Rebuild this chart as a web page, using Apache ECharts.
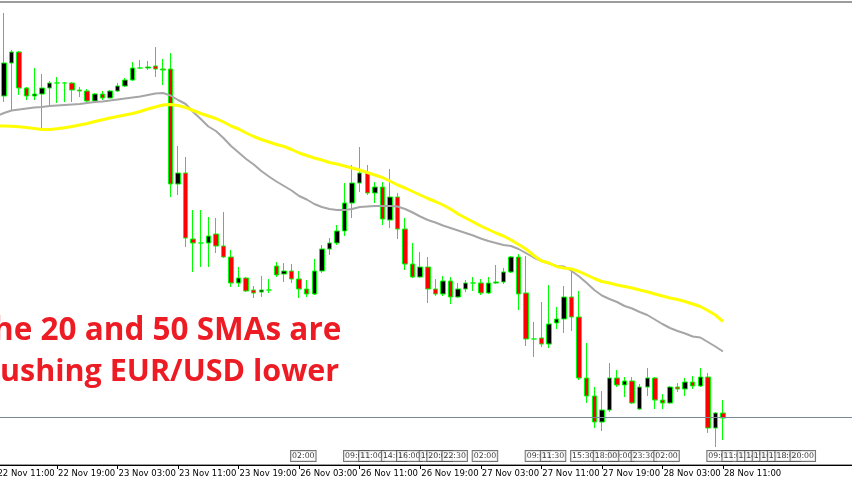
<!DOCTYPE html>
<html><head><meta charset="utf-8">
<script src="https://cdn.jsdelivr.net/npm/echarts@6/dist/echarts.min.js"></script>
<style>html,body{margin:0;padding:0;background:#fff}#c{width:852px;height:485px}</style>
</head><body><div id="c"></div>
<script>
// hourly bars (H1), weekend skipped
const dayHours = [['22 Nov',11,23],['23 Nov',0,23],['26 Nov',0,23],['27 Nov',0,23],['28 Nov',0,23],['29 Nov',0,5]];
const categories = [];
dayHours.forEach(function(d){ for(let h=d[1];h<=d[2];h++){ categories.push(d[0]+' '+(h<10?'0':'')+h+':00'); } });

const tickLabels = ['22 Nov 11:00','22 Nov 19:00','23 Nov 03:00','23 Nov 11:00','23 Nov 19:00','26 Nov 03:00','26 Nov 11:00','26 Nov 19:00','27 Nov 03:00','27 Nov 11:00','27 Nov 19:00','28 Nov 03:00','28 Nov 11:00'];

const openP = [null,
1.14016,1.14148,1.14192,1.14048,1.14016,1.14024,1.14048,1.14068,1.14068,1.14068,
1.14040,1.14036,1.13996,1.14024,1.14008,1.14036,1.14056,1.14080,1.14128,1.14128,
1.14136,1.14124,1.14124,1.13664,1.13708,1.13444,1.13428,1.13428,1.13464,1.13416,
1.13372,1.13268,1.13288,1.13240,1.13232,1.13240,1.13336,1.13304,1.13316,1.13284,
1.13244,1.13224,1.13316,1.13404,1.13428,1.13476,1.13588,1.13668,1.13708,1.13628,
1.13652,1.13520,1.13612,1.13484,1.13344,1.13292,1.13332,1.13244,1.13224,1.13276,
1.13212,1.13244,1.13268,1.13268,1.13228,1.13268,1.13272,1.13312,1.13372,1.13228,
1.13044,1.13048,1.13024,1.13108,1.13124,1.13212,1.13132,1.12888,1.12816,1.12712,
1.12760,1.12888,1.12860,1.12876,1.12764,1.12852,1.12888,1.12800,1.12788,1.12852,
1.12844,1.12872,1.12856,1.12892,1.12688,1.12748];
const closeP = [null,
1.14148,1.14192,1.14048,1.14016,1.14024,1.14048,1.14068,1.14068,1.14068,1.14040,
1.14036,1.13996,1.14024,1.14008,1.14036,1.14056,1.14080,1.14128,1.14128,1.14132,
1.14124,1.14120,1.13664,1.13708,1.13448,1.13428,1.13428,1.13456,1.13416,1.13372,
1.13268,1.13288,1.13236,1.13228,1.13240,1.13240,1.13300,1.13316,1.13284,1.13244,
1.13224,1.13316,1.13404,1.13428,1.13476,1.13588,1.13668,1.13708,1.13628,1.13652,
1.13524,1.13612,1.13484,1.13344,1.13292,1.13332,1.13244,1.13224,1.13276,1.13212,
1.13244,1.13268,1.13268,1.13228,1.13268,1.13272,1.13312,1.13372,1.13224,1.13044,
1.13044,1.13024,1.13104,1.13124,1.13212,1.13132,1.12888,1.12816,1.12712,1.12760,
1.12888,1.12860,1.12876,1.12788,1.12852,1.12888,1.12800,1.12788,1.12852,1.12844,
1.12872,1.12856,1.12892,1.12688,1.12748,1.12728];
const lowP = [null,
1.13992,1.13960,1.14020,1.14000,1.14000,1.13888,1.13980,1.13988,1.13992,1.13992,
1.14012,1.13992,1.13988,1.14000,1.14008,1.14032,1.14052,1.14076,1.14124,1.14120,
1.14092,1.14060,1.13612,1.13620,1.13412,1.13312,1.13332,1.13332,1.13388,1.13368,
1.13252,1.13252,1.13232,1.13208,1.13212,1.13228,1.13292,1.13272,1.13268,1.13208,
1.13212,1.13220,1.13308,1.13380,1.13420,1.13456,1.13528,1.13632,1.13620,1.13588,
1.13500,1.13488,1.13444,1.13320,1.13288,1.13288,1.13188,1.13216,1.13216,1.13184,
1.13208,1.13232,1.13236,1.13220,1.13224,1.13264,1.13264,1.13308,1.13160,1.13016,
1.12972,1.13012,1.13008,1.13084,1.13068,1.13076,1.12880,1.12788,1.12688,1.12676,
1.12752,1.12852,1.12812,1.12784,1.12760,1.12816,1.12764,1.12764,1.12784,1.12832,
1.12816,1.12844,1.12852,1.12668,1.12612,1.12640];
const highP = [null,
1.14348,1.14200,1.14196,1.14052,1.14128,1.14104,1.14076,1.14092,1.14072,1.14072,
1.14052,1.14044,1.14028,1.14036,1.14040,1.14068,1.14088,1.14152,1.14160,1.14156,
1.14212,1.14164,1.14188,1.13816,1.13772,1.13560,1.13560,1.13532,1.13528,1.13552,
1.13400,1.13332,1.13292,1.13256,1.13296,1.13284,1.13352,1.13348,1.13344,1.13316,
1.13280,1.13364,1.13420,1.13448,1.13500,1.13668,1.13740,1.13812,1.13740,1.13672,
1.13672,1.13724,1.13628,1.13528,1.13428,1.13392,1.13372,1.13284,1.13296,1.13292,
1.13268,1.13280,1.13292,1.13284,1.13292,1.13340,1.13328,1.13376,1.13384,1.13376,
1.13112,1.13192,1.13260,1.13172,1.13256,1.13312,1.13236,1.13028,1.12852,1.12836,
1.12948,1.12920,1.12892,1.12892,1.12864,1.12928,1.12892,1.12824,1.12856,1.12868,
1.12888,1.12896,1.12928,1.12908,1.12752,1.12800];

const sma20 = [1.13936,
1.13948,1.13958,1.13962,1.13966,1.13970,1.13972,1.13976,1.13978,1.13980,1.13982,
1.13984,1.13988,1.13992,1.13994,1.13998,1.14002,1.14006,1.14010,1.14014,1.14020,
1.14026,1.14028,1.14018,1.14000,1.13984,1.13952,1.13924,1.13894,1.13876,1.13848,
1.13816,1.13790,1.13764,1.13742,1.13716,1.13694,1.13674,1.13656,1.13638,1.13616,
1.13602,1.13584,1.13572,1.13564,1.13560,1.13560,1.13564,1.13572,1.13574,1.13576,
1.13576,1.13576,1.13574,1.13564,1.13550,1.13534,1.13520,1.13510,1.13498,1.13488,
1.13478,1.13468,1.13458,1.13446,1.13436,1.13428,1.13420,1.13416,1.13404,1.13387,
1.13370,1.13356,1.13346,1.13336,1.13334,1.13316,1.13294,1.13268,1.13240,1.13218,
1.13204,1.13192,1.13176,1.13166,1.13152,1.13140,1.13122,1.13104,1.13088,1.13076,
1.13066,1.13054,1.13050,1.13032,1.13014,1.12994];
const sma50 = [1.13896,
1.13896,1.13895,1.13893,1.13890,1.13886,1.13882,1.13882,1.13885,1.13889,1.13894,
1.13900,1.13906,1.13914,1.13921,1.13928,1.13934,1.13940,1.13946,1.13954,1.13964,
1.13972,1.13980,1.13982,1.13978,1.13970,1.13958,1.13946,1.13936,1.13926,1.13912,
1.13896,1.13884,1.13868,1.13854,1.13842,1.13832,1.13822,1.13814,1.13802,1.13788,
1.13778,1.13768,1.13760,1.13750,1.13744,1.13736,1.13728,1.13720,1.13710,1.13700,
1.13690,1.13676,1.13660,1.13648,1.13634,1.13620,1.13606,1.13594,1.13580,1.13564,
1.13544,1.13528,1.13512,1.13496,1.13482,1.13468,1.13456,1.13440,1.13422,1.13403,
1.13378,1.13357,1.13348,1.13334,1.13328,1.13324,1.13314,1.13300,1.13286,1.13274,
1.13268,1.13260,1.13254,1.13248,1.13240,1.13233,1.13224,1.13216,1.13208,1.13202,
1.13194,1.13184,1.13174,1.13158,1.13140,1.13114];

const levelLine = 1.12732;

// event markers: [bar, label]
const events = [
['26 Nov 02:00','02:00'],['26 Nov 09:00','09:00'],['26 Nov 11:00','11:00'],['26 Nov 14:00','14:00'],
['26 Nov 16:00','16:00'],['26 Nov 19:00','19:00'],['26 Nov 20:00','20:00'],['26 Nov 22:00','22:30'],
['27 Nov 02:00','02:00'],['27 Nov 09:00','09:00'],['27 Nov 11:00','11:30'],['27 Nov 15:00','15:30'],
['27 Nov 20:00','20:00'],['27 Nov 18:00','18:00'],['27 Nov 23:00','23:30'],['28 Nov 02:00','02:00'],
['28 Nov 09:00','09:00'],['28 Nov 11:00','11:00'],['28 Nov 13:00','13:00'],['28 Nov 14:00','14:00'],
['28 Nov 15:00','15:00'],['28 Nov 16:00','16:00'],['28 Nov 17:00','17:00'],['28 Nov 18:00','18:00'],
['28 Nov 20:00','20:00']];

const annotation = ['he 20 and 50 SMAs are', 'ushing EUR/USD lower'];

const candleData = openP.map(function(o,i){ return o===null ? '-' : [o, closeP[i], lowP[i], highP[i]]; });

const chart = echarts.init(document.getElementById('c'), null, {renderer:'canvas'});
const bandW = 7.568;
chart.setOption({
  animation:false,
  backgroundColor:'#ffffff',
  grid:{left:-3.57 - bandW/2, top:2, width: bandW*categories.length, height:463, containLabel:false, outerBoundsMode:'none',
        show:true, borderColor:'#3a3a3a', borderWidth:1, backgroundColor:'transparent'},
  xAxis:{type:'category', data:categories, boundaryGap:true,
    axisLine:{show:true, lineStyle:{color:'#000', width:1}},
    axisTick:{show:true, alignWithLabel:true, length:4, lineStyle:{color:'#000'}, interval:function(i,v){return tickLabels.indexOf(v)>=0;}},
    axisLabel:{show:true, interval:function(i,v){return tickLabels.indexOf(v)>=0;}, align:'left', margin:4, color:'#000', fontFamily:'DejaVu Sans', fontSize:8.5, padding:[0,0,0,1], hideOverlap:false},
    splitLine:{show:false}},
  yAxis:[{type:'value', min:1.1254, max:1.14392, show:false, splitLine:{show:false}, scale:true},
         {type:'value', min:0, max:1, show:false, splitLine:{show:false}}],
  series:[
    {type:'candlestick', name:'EURUSD', data:candleData, barWidth:5,
     itemStyle:{color:'#000000', color0:'#ff0000', borderColor:'#00ff00', borderColor0:'#00ff00', borderColorDoji:'#00ff00', borderWidth:1},
     z:2},
    {type:'line', name:'SMA 20', data:sma20, symbol:'none', lineStyle:{color:'#a6a6a6', width:2}, z:3,
     markLine:{symbol:['none','none'], precision:5, silent:true, label:{show:false}, lineStyle:{color:'#7a8796', width:1, type:'solid'}, data:[{yAxis:levelLine}]}},
    {type:'line', name:'SMA 50', data:sma50, symbol:'none', lineStyle:{color:'#ffff00', width:3}, z:3},
    {type:'scatter', name:'events', yAxisIndex:1, data:events.map(function(e){return [e[0],0];}),
     symbolSize:1, itemStyle:{color:'rgba(0,0,0,0)'}, z:4,
     label:{show:true, position:'right', distance:0, offset:[-1,-9], formatter:function(p){return events[p.dataIndex][1];},
       fontFamily:'DejaVu Sans', fontSize:7.8, lineHeight:9, color:'#000', backgroundColor:'#fff', borderColor:'#505050', borderWidth:1, padding:[1,1,0,1]}}
  ],
  graphic:[
    {type:'text', x:-7, y:331, style:{text:annotation[0], font:'bold 31.5px "Open Sans"', fill:'#ed1c24', verticalAlign:'middle', align:'left'}, z:10},
    {type:'text', x:0, y:372, style:{text:annotation[1], font:'bold 30.5px "Open Sans"', fill:'#ed1c24', verticalAlign:'middle', align:'left'}, z:10}
  ]
});
</script></body></html>
